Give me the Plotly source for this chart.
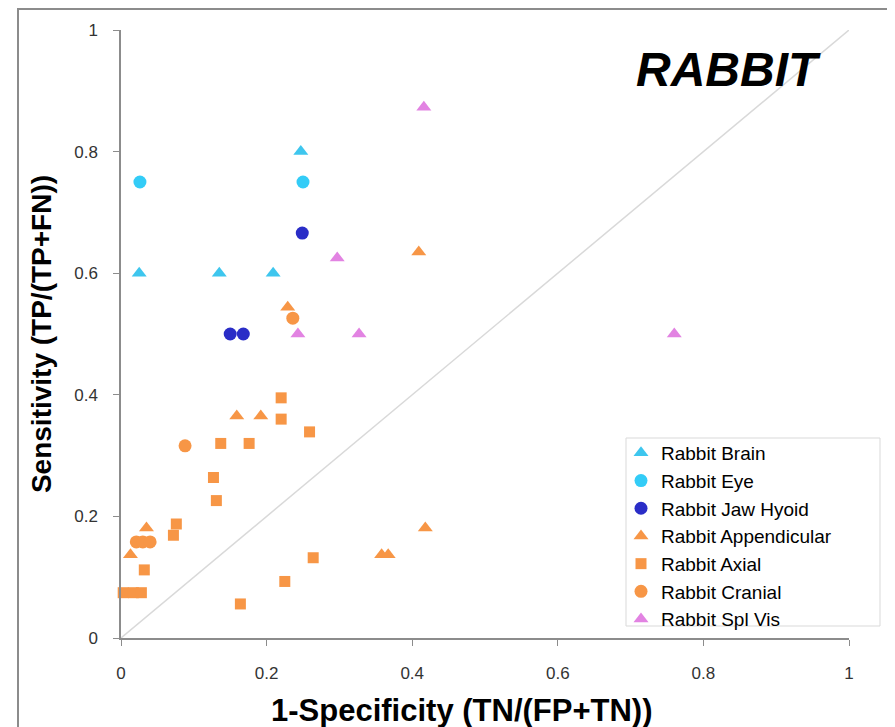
import plotly.graph_objects as go

# ---- data ----
brain_x = [0.025, 0.135, 0.209, 0.247]
brain_y = [0.600, 0.600, 0.600, 0.800]

eye_x = [0.026, 0.250]
eye_y = [0.750, 0.750]

jaw_x = [0.249, 0.150, 0.168]
jaw_y = [0.666, 0.500, 0.500]

app_x = [0.409, 0.229, 0.159, 0.192, 0.035, 0.013, 0.418, 0.358, 0.367]
app_y = [0.635, 0.544, 0.365, 0.365, 0.181, 0.137, 0.181, 0.137, 0.137]

axial_x = [0.220, 0.220, 0.137, 0.176, 0.127, 0.131, 0.076, 0.072, 0.032,
           0.003, 0.017, 0.028, 0.225, 0.164, 0.259, 0.264]
axial_y = [0.395, 0.360, 0.320, 0.320, 0.264, 0.226, 0.1875, 0.169, 0.112,
           0.0745, 0.0745, 0.0745, 0.093, 0.056, 0.339, 0.132]

cranial_x = [0.088, 0.021, 0.030, 0.040, 0.236]
cranial_y = [0.316, 0.158, 0.158, 0.158, 0.526]

spl_x = [0.416, 0.297, 0.243, 0.327, 0.760]
spl_y = [0.873, 0.625, 0.500, 0.500, 0.500]

diag = [0, 1]
ticks = [0, 0.2, 0.4, 0.6, 0.8, 1]
tick_labels = ["0", "0.2", "0.4", "0.6", "0.8", "1"]

fig = go.Figure()

fig.add_trace(go.Scatter(x=diag, y=diag, mode="lines",
                         line=dict(color="#d9d9d9", width=1.5),
                         showlegend=False, hoverinfo="skip"))

series = [
    ("Rabbit Brain", brain_x, brain_y, "triangle-up", "#3ec6ee", 13),
    ("Rabbit Eye", eye_x, eye_y, "circle", "#33ccf7", 13),
    ("Rabbit Jaw Hyoid", jaw_x, jaw_y, "circle", "#2a2dc7", 13),
    ("Rabbit Appendicular", app_x, app_y, "triangle-up", "#f79646", 13),
    ("Rabbit Axial", axial_x, axial_y, "square", "#f79646", 11),
    ("Rabbit Cranial", cranial_x, cranial_y, "circle", "#f79646", 13),
    ("Rabbit Spl Vis", spl_x, spl_y, "triangle-up", "#e283e2", 13),
]
for name, xs, ys, sym, col, sz in series:
    fig.add_trace(go.Scatter(x=xs, y=ys, mode="markers", name=name,
                             marker=dict(symbol=sym, color=col, size=sz,
                                         line=dict(width=0)),
                             cliponaxis=False))

tickfont = dict(family="Liberation Sans Narrow, Liberation Sans, Arial", size=17, color="#333333")

# page is offset by the body margin (8px); plot area spans page x 121..849, y 30..638
L, T = 113, 22
W, H = 728, 608


def px(xp):
    return (xp - 8 - L) / W


def py(yp):
    return (T + H - (yp - 8)) / H


fig.update_layout(
    width=895, height=727,
    margin=dict(l=L, r=895 - L - W, t=T, b=727 - T - H),
    plot_bgcolor="white", paper_bgcolor="white",
    font=dict(family="Liberation Sans, Arial", color="#000000"),
    xaxis=dict(range=[0, 1], tickvals=ticks, ticktext=tick_labels,
               showgrid=False, zeroline=False, showline=True, automargin=False,
               linecolor="#8c8c8c", linewidth=1.5, ticks="outside",
               ticklen=6, tickcolor="#8c8c8c", tickfont=tickfont,
               ticklabelstandoff=13),
    yaxis=dict(range=[0, 1], tickvals=ticks, ticktext=tick_labels,
               showgrid=False, zeroline=False, showline=True, automargin=False,
               linecolor="#8c8c8c", linewidth=1.5, ticks="outside",
               ticklen=6, tickcolor="#8c8c8c", tickfont=tickfont,
               ticklabelstandoff=12,
               title=dict(text="<b>Sensitivity (TP/(TP+FN))</b>",
                          font=dict(size=28, family="Liberation Sans, Arial", color="#000"),
                          standoff=14)),
    legend=dict(x=px(621), y=py(434), xanchor="left", yanchor="top",
                bgcolor="rgba(0,0,0,0)", borderwidth=0,
                font=dict(size=19, family="Liberation Sans, Arial", color="#000"),
                itemsizing="trace", tracegroupgap=0),
    showlegend=True,
)

# x axis title
fig.add_annotation(x=px(462), y=py(710), xref="paper", yref="paper",
                   text="<b>1-Specificity (TN/(FP+TN))</b>", showarrow=False,
                   font=dict(size=31, family="Liberation Sans, Arial", color="#000"),
                   xanchor="center", yanchor="middle")

# legend frame
fig.add_shape(type="rect", xref="paper", yref="paper",
              x0=px(626), x1=px(880), y0=py(626), y1=py(438),
              line=dict(color="#d9d9d9", width=1), fillcolor="white",
              layer="below")

fig.add_annotation(x=px(728), y=py(70), xref="paper", yref="paper",
                   text="<b><i>RABBIT</i></b>", showarrow=False,
                   font=dict(size=48, family="Liberation Sans, Arial", color="#000"),
                   xanchor="center", yanchor="middle")

# outer chart border
fig.add_shape(type="rect", xref="paper", yref="paper",
              x0=px(18), x1=px(890),
              y0=py(760), y1=(T + H - 1) / H,
              line=dict(color="#8c8c8c", width=2), fillcolor="rgba(0,0,0,0)",
              layer="below")

fig.write_html("out.html")
